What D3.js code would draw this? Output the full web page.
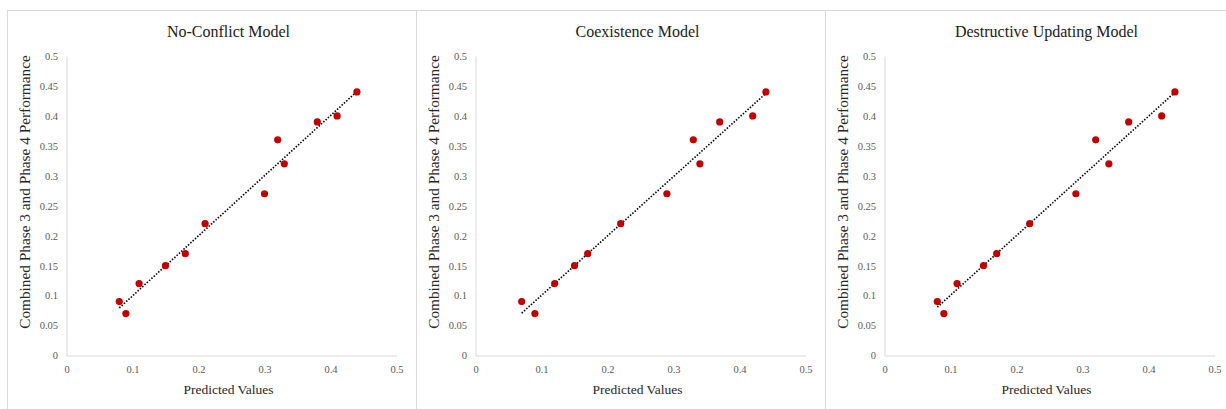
<!DOCTYPE html>
<html>
<head>
<meta charset="utf-8">
<script src="https://cdn.jsdelivr.net/npm/d3@7"></script>
<style>
  body { margin: 0; background: #fff; }
  text { font-family: "Liberation Serif", "Times New Roman", serif; }
</style>
</head>
<body>
<svg id="chart"></svg>
<script>
// trois modèles, mêmes performances observées
const titles = ["No-Conflict Model", "Coexistence Model", "Destructive Updating Model"];
const xNoConflict = [0.08, 0.09, 0.11, 0.15, 0.18, 0.21, 0.30, 0.32, 0.33, 0.38, 0.41, 0.44];
const xCoexistence = [0.07, 0.09, 0.12, 0.15, 0.17, 0.22, 0.29, 0.33, 0.34, 0.37, 0.42, 0.44];
const xDestructive = [0.08, 0.09, 0.11, 0.15, 0.17, 0.22, 0.29, 0.32, 0.34, 0.37, 0.42, 0.44];
const yObserved = [0.09, 0.07, 0.12, 0.15, 0.17, 0.22, 0.27, 0.36, 0.32, 0.39, 0.40, 0.44];
const xTicks = [0, 0.1, 0.2, 0.3, 0.4, 0.5];
const yTicks = [0, 0.05, 0.1, 0.15, 0.2, 0.25, 0.3, 0.35, 0.4, 0.45, 0.5];
const xLabel = "Predicted Values";
const yLabel = "Combined Phase 3 and Phase 4 Performance";

const W = 1226, H = 409;
const panelW = 409, panelX0 = 7, frameTop = 10;
const margin = {left: 59.5, top: 56, width: 330, height: 299.5};
const serif = '"Liberation Serif", "Times New Roman", serif';

const svg = d3.select("#chart").attr("width", W).attr("height", H);

// cadres des panneaux
svg.append("line")
  .attr("x1", panelX0).attr("x2", W).attr("y1", frameTop + 0.5).attr("y2", frameTop + 0.5)
  .attr("stroke", "#d9d9d9");

const xs = [xNoConflict, xCoexistence, xDestructive];

function regression(x, y) {
  const mx = d3.mean(x), my = d3.mean(y);
  let sxy = 0, sxx = 0;
  x.forEach((v, i) => { sxy += (v - mx) * (y[i] - my); sxx += (v - mx) * (v - mx); });
  const b = sxy / sxx;
  return {b: b, a: my - b * mx};
}

const fmt = d => String(+d.toFixed(2));

titles.forEach((title, p) => {
  const px = panelX0 + p * panelW;
  svg.append("line")
    .attr("x1", px + 0.5).attr("x2", px + 0.5).attr("y1", frameTop).attr("y2", H)
    .attr("stroke", "#d9d9d9");

  const g = svg.append("g").attr("transform", `translate(${px + margin.left},${margin.top})`);
  const x = d3.scaleLinear().domain([0, 0.5]).range([0, margin.width]);
  const y = d3.scaleLinear().domain([0, 0.5]).range([margin.height, 0]);

  // axes sans graduations
  const ax = g.append("g").attr("transform", `translate(0,${margin.height})`)
    .call(d3.axisBottom(x).tickValues(xTicks).tickSize(0).tickPadding(10).tickFormat(fmt));
  const ay = g.append("g")
    .call(d3.axisLeft(y).tickValues(yTicks).tickSize(0).tickPadding(8.5).tickFormat(fmt));
  [ax, ay].forEach(a => {
    a.attr("font-family", serif).attr("font-size", 10.5);
    a.select(".domain").attr("stroke", "#d9d9d9");
    a.selectAll("text").attr("fill", "#595959");
  });

  // tendance linéaire
  const xv = xs[p];
  const r = regression(xv, yObserved);
  const ext = d3.extent(xv);
  g.append("line")
    .attr("x1", x(ext[0])).attr("y1", y(r.a + r.b * ext[0]))
    .attr("x2", x(ext[1])).attr("y2", y(r.a + r.b * ext[1]))
    .attr("stroke", "#000").attr("stroke-width", 1.6)
    .attr("stroke-dasharray", "1.5,1.6");

  g.selectAll("circle")
    .data(xv.map((v, i) => [v, yObserved[i]]))
    .enter().append("circle")
    .attr("cx", d => x(d[0]))
    .attr("cy", d => y(d[1]))
    .attr("r", 3.6)
    .attr("fill", "#c00000");

  g.append("text")
    .attr("x", margin.width / 2 - 3).attr("y", 37 - margin.top)
    .attr("text-anchor", "middle")
    .attr("fill", "#1a1a1a")
    .style("font-size", "16px")
    .text(title);

  g.append("text")
    .attr("x", margin.width / 2 - 3).attr("y", 394 - margin.top)
    .attr("text-anchor", "middle")
    .attr("fill", "#262626")
    .style("font-size", "13.5px")
    .text(xLabel);

  g.append("text")
    .attr("transform", `translate(${18 - margin.left + 5},${192 - margin.top}) rotate(-90)`)
    .attr("text-anchor", "middle")
    .attr("fill", "#262626")
    .style("font-size", "15.3px")
    .text(yLabel);
});
</script>
</body>
</html>
